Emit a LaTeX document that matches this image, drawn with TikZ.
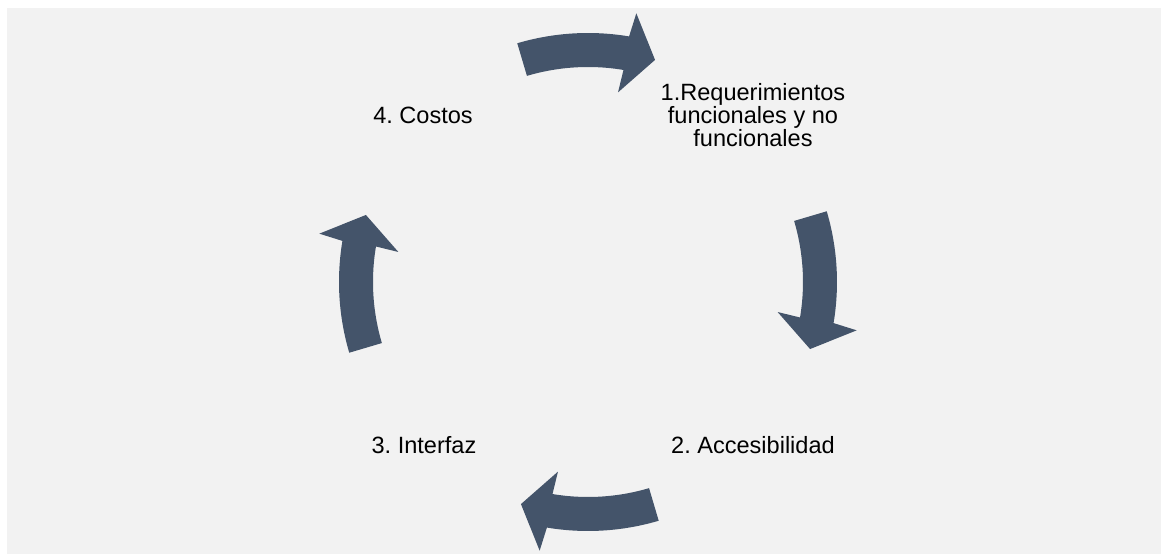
\documentclass[tikz,border=0pt]{standalone}
\usepackage{fontspec}
\setmainfont{Liberation Sans}
\frenchspacing

\definecolor{flecha}{HTML}{44546A}
\definecolor{fondo}{HTML}{F2F2F2}

\begin{document}
\begin{tikzpicture}[x=0.02cm, y=0.02cm,
    etiqueta/.style={align=center, inner sep=0pt, text=black,
      font=\fontsize{13.4pt}{13.3pt}\selectfont},
    curva/.style={fill=flecha}]
  \useasboundingbox (-588,-272) rectangle (573,282);
  \fill[fondo] (-581,-272) rectangle (573,274);

  % the four curved arrows, clockwise
  \fill[curva, rotate=90] (16.5:249) arc[start angle=16.5, end angle=-9.5, radius=249]
    -- (-10.2:273) -- (-16.8:232) -- (-9:192) -- (-9.5:215)
    arc[start angle=-9.5, end angle=16.5, radius=215] -- cycle;
  \fill[curva, rotate=0] (16.5:249) arc[start angle=16.5, end angle=-9.5, radius=249]
    -- (-10.2:273) -- (-16.8:232) -- (-9:192) -- (-9.5:215)
    arc[start angle=-9.5, end angle=16.5, radius=215] -- cycle;
  \fill[curva, rotate=-90] (16.5:249) arc[start angle=16.5, end angle=-9.5, radius=249]
    -- (-10.2:273) -- (-16.8:232) -- (-9:192) -- (-9.5:215)
    arc[start angle=-9.5, end angle=16.5, radius=215] -- cycle;
  \fill[curva, rotate=180] (16.5:249) arc[start angle=16.5, end angle=-9.5, radius=249]
    -- (-10.2:273) -- (-16.8:232) -- (-9:192) -- (-9.5:215)
    arc[start angle=-9.5, end angle=16.5, radius=215] -- cycle;

  \node[etiqueta] (req) at (165,167) {1.Requerimientos\\funcionales y no\\funcionales};
  \node[etiqueta] (acc) at (165,-163) {2. Accesibilidad};
  \node[etiqueta] (int) at (-164,-163) {3. Interfaz};
  \node[etiqueta] (cos) at (-165,167) {4. Costos};
\end{tikzpicture}
\end{document}
